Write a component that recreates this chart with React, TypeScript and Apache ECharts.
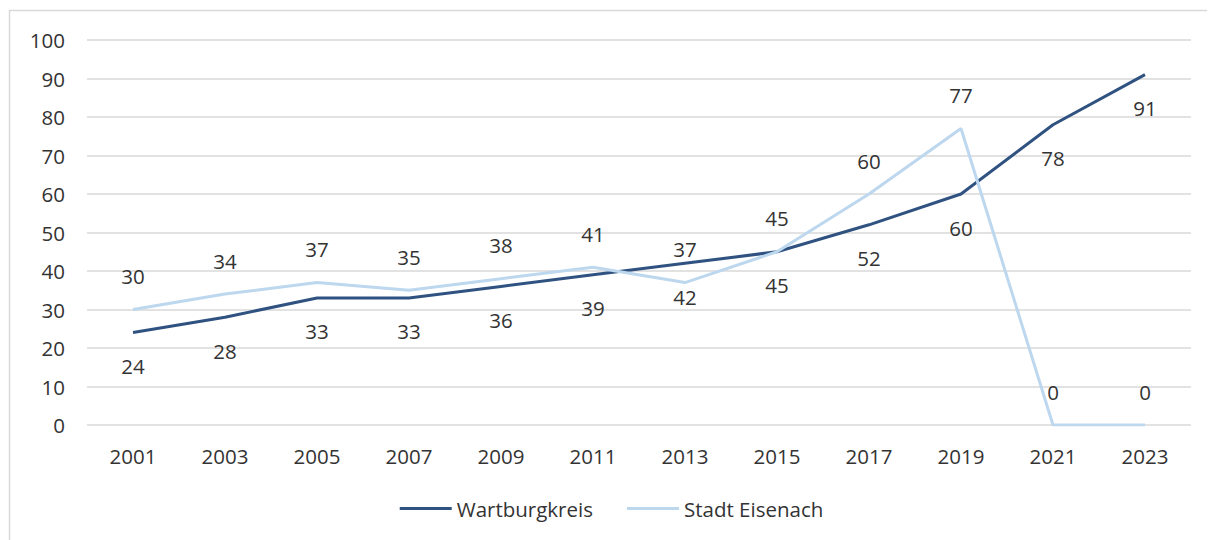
import React, { useEffect, useRef } from "react";
import * as echarts from "echarts";

const categories = ["2001", "2003", "2005", "2007", "2009", "2011", "2013", "2015", "2017", "2019", "2021", "2023"];
const wartburgkreis = [24, 28, 33, 33, 36, 39, 42, 45, 52, 60, 78, 91];
const eisenach = [30, 34, 37, 35, 38, 41, 37, 45, 60, 77, 0, 0];

const FONT = "'Open Sans', sans-serif";
const TEXT = "#333333";
const FS = 20.5;

export default function App() {
  const ref = useRef<HTMLDivElement>(null);
  useEffect(() => {
    if (!ref.current) return;
    const chart = echarts.init(ref.current, null, { renderer: "svg" });
    chart.setOption({
      animation: false,
      textStyle: { fontFamily: FONT },
      graphic: [
        {
          type: "rect",
          shape: { x: 1.5, y: 2.5, width: 1400, height: 700 },
          style: { fill: "none", stroke: "#d9d9d9", lineWidth: 1.5 },
          silent: true,
        },
      ],
      grid: { left: 79, right: 24, top: 32, bottom: 115 },
      legend: {
        bottom: 16,
        left: "center",
        icon: "rect",
        itemWidth: 52,
        itemHeight: 3,
        itemGap: 34,
        textStyle: { fontFamily: FONT, fontSize: FS, color: TEXT },
        data: ["Wartburgkreis", "Stadt Eisenach"],
      },
      xAxis: {
        type: "category",
        data: categories,
        boundaryGap: true,
        axisLine: { show: false },
        axisTick: { show: false },
        axisLabel: { fontFamily: FONT, fontSize: FS, color: TEXT, margin: 20 },
      },
      yAxis: {
        type: "value",
        min: 0,
        max: 100,
        interval: 10,
        axisLine: { show: false },
        axisTick: { show: false },
        axisLabel: { fontFamily: FONT, fontSize: FS, color: TEXT, margin: 22 },
        splitLine: { lineStyle: { color: "#d9d9d9", width: 1.5 } },
      },
      series: [
        {
          name: "Wartburgkreis",
          type: "line",
          data: wartburgkreis,
          symbol: "circle",
          symbolSize: 0,
          showSymbol: true,
          itemStyle: { color: "#2F5280" },
          lineStyle: { color: "#2F5280", width: 3 },
          label: {
            show: true,
            position: "bottom",
            distance: 23,
            fontFamily: FONT,
            fontSize: FS,
            color: TEXT,
          },
        },
        {
          name: "Stadt Eisenach",
          type: "line",
          data: eisenach,
          symbol: "circle",
          symbolSize: 0,
          showSymbol: true,
          itemStyle: { color: "#BDD7EE" },
          lineStyle: { color: "#BDD7EE", width: 3 },
          label: {
            show: true,
            position: "top",
            distance: 23,
            fontFamily: FONT,
            fontSize: FS,
            color: TEXT,
          },
        },
      ],
    });
    return () => chart.dispose();
  }, []);
  return <div ref={ref} style={{ width: 1207, height: 532 }} />;
}
